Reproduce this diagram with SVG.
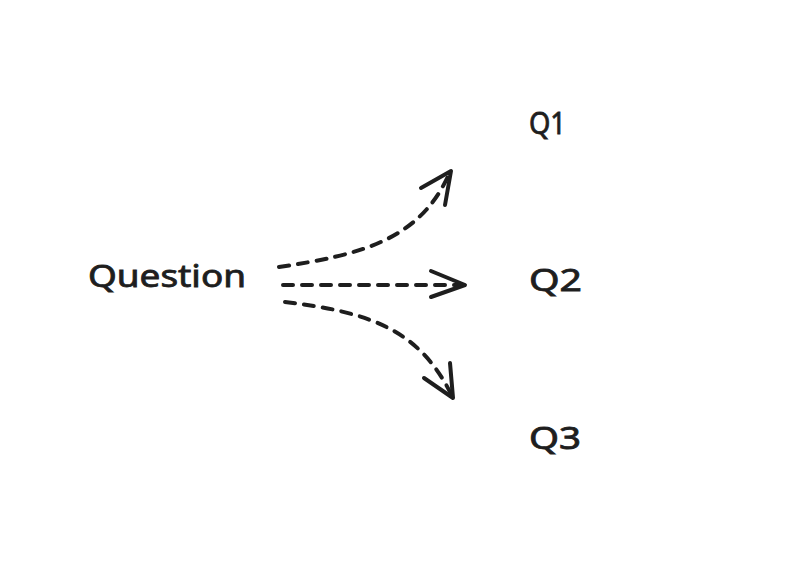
<svg xmlns="http://www.w3.org/2000/svg" width="795" height="569" viewBox="0 0 795 569">
<style>
.t{font-family:"Comic Sans MS","Noto Sans",sans-serif;font-size:30px;fill:#1e1e1e;stroke:#1e1e1e;stroke-width:0.8}
.c{fill:none;stroke:#1e1e1e;stroke-width:4;stroke-linecap:round;stroke-dasharray:10 9}
.h{fill:none;stroke:#1e1e1e;stroke-width:4;stroke-linecap:round;stroke-linejoin:round}
</style>
<rect width="795" height="569" fill="#fff"/>
<g id="question"><text class="t" x="88" y="287" textLength="158" lengthAdjust="spacingAndGlyphs">Question</text></g>
<g id="q1"><text class="t" x="529" y="134" textLength="37" lengthAdjust="spacingAndGlyphs">Q1</text></g>
<g id="q2"><text class="t" x="529" y="291" textLength="53" lengthAdjust="spacingAndGlyphs">Q2</text></g>
<g id="q3"><text class="t" x="529" y="449" textLength="52" lengthAdjust="spacingAndGlyphs">Q3</text></g>
<g id="connectors">
<path class="c" d="M279 267 C360 255 420 240 449 174"/>
<path class="h" d="M421 188 L451 171 L445 205"/>
<path class="c" d="M283 285 L462 285"/>
<path class="h" d="M431 271 L465 285 L431 297"/>
<path class="c" d="M285 302 C370 312 420 330 452 396"/>
<path class="h" d="M450 363 L453 398 L424 378"/>
</g>
</svg>
